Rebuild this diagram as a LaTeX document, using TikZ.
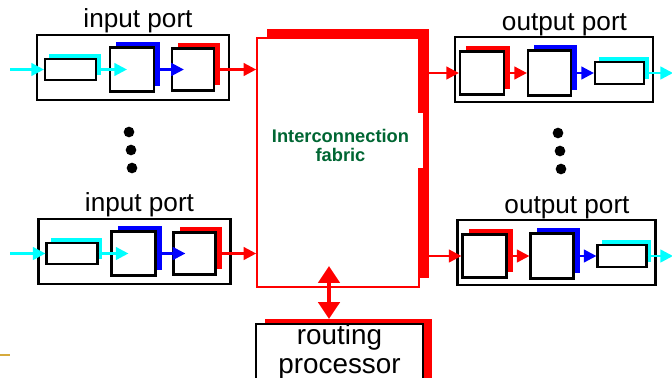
\documentclass[tikz,border=0pt]{standalone}
\usepackage{fontspec}
\setmainfont{Liberation Sans}
\usepackage{xcolor}
\usepackage{tikz}
\usetikzlibrary{arrows.meta,positioning,shadows}
\definecolor{fabred}{RGB}{255,0,0}
\definecolor{linkblue}{RGB}{0,0,255}
\definecolor{termcyan}{RGB}{0,255,255}
\definecolor{fabgreen}{RGB}{0,102,51}
\definecolor{slidegold}{RGB}{214,170,60}

\tikzset{
  portbox/.style={draw,line width=1.5pt,inner sep=0pt},
  unitbox/.style={draw,fill=white,line width=1.5pt,inner sep=0pt},
  redshadow/.style={general shadow={fill=fabred,shadow xshift=4.3pt,shadow yshift=4pt}},
  blueshadow/.style={general shadow={fill=linkblue,shadow xshift=4.3pt,shadow yshift=3.6pt}},
  cyanshadow/.style={general shadow={fill=termcyan,shadow xshift=3.2pt,shadow yshift=3.6pt}},
  portlabel/.style={anchor=base,inner sep=0pt,font=\fontsize{18.6}{22}\selectfont},
  flow/.style={->,line width=1.8pt},
}

\begin{document}
\begin{tikzpicture}[x=0.025cm,y=-0.025cm,>={Triangle[length=9pt,width=9pt]}]
  \useasboundingbox (0,0) rectangle (672,377);
  \clip (0,0) rectangle (672,377);
  % ---- CENTRE: interconnection fabric ----
  \node[unitbox,draw=fabred,line width=1.1pt,minimum width=4.05cm,minimum height=6.225cm,
        general shadow={fill=fabred,shadow xshift=7.1pt,shadow yshift=6.4pt}] (fabric) at (338,162.5) {};
  \node[fill=white,inner sep=0pt,minimum width=4.075cm,minimum height=1.375cm] (fabcover) at (341.5,140.5) {};
  \node[text=fabgreen,align=center,font=\fontsize{13}{13.5}\selectfont\bfseries] (fabtext) at (340.5,145)
        {Interconnection\\fabric};
  % ---- BELOW: routing processor ----
  \node[unitbox,minimum width=4.175cm,anchor=north,align=center,inner ysep=0pt,text depth=40pt,
        font=\fontsize{19.8}{20.6}\selectfont,
        general shadow={fill=fabred,shadow xshift=6.4pt,shadow yshift=3.5pt}] (router) at (339.5,323)
        {routing\\processor};
  \coordinate (ftip) at (329,266);
  \coordinate (rtip) at (329,319);
  \draw[{Triangle[length=12pt,width=15pt]}-{Triangle[length=12pt,width=15pt]},line width=3.5pt,fabred]
        (rtip) -- (ftip);
  % ---- LEFT: input ports ----
  \foreach \n/\dx/\dy in {a/0/0,b/1.5/184}{
    \node[portbox,minimum width=4.8cm,minimum height=1.625cm] (inport\n) at (133+\dx,67.5+\dy) {};
    \node[portlabel] (inlabel\n) at (138+\dx,27+\dy) {input port};
    \node[unitbox,cyanshadow,minimum width=1.275cm,minimum height=0.525cm] (interm\n) at (70.5+\dx,69.5+\dy) {};
    \node[unitbox,blueshadow,minimum size=1.1cm] (inlink\n) at (132+\dx,69.5+\dy) {};
    \node[unitbox,redshadow,minimum size=1.05cm] (inlook\n) at (193+\dx,69.5+\dy) {};
    \coordinate (insrc\n) at (10,69.5+\dy);
    \draw[flow,termcyan] (insrc\n) -- (interm\n);
    \draw[flow,termcyan] (interm\n.east) -- ([xshift=12.8pt]inlink\n.west);
    \draw[flow,linkblue] (inlink\n.east) -- ([xshift=9.2pt]inlook\n.west);
    \draw[flow,fabred] (inlook\n.east) -- (inlook\n.east -| fabric.west);
  }
  % ---- RIGHT: output ports ----
  \foreach \n/\dx/\dy in {a/0/0,b/2.5/183}{
    \node[portbox,minimum width=4.95cm,minimum height=1.625cm] (outport\n) at (554+\dx,69.5+\dy) {};
    \node[portlabel] (outlabel\n) at (564.5+\dx,30+\dy) {output port};
    \node[unitbox,redshadow,minimum width=1.1cm,minimum height=1.075cm] (outqueue\n) at (482+\dx,73+\dy) {};
    \node[unitbox,blueshadow,minimum width=1.075cm,minimum height=1.125cm] (outlink\n) at (549.5+\dx,73+\dy) {};
    \node[unitbox,cyanshadow,minimum width=1.225cm,minimum height=0.55cm] (outterm\n) at (619.5+\dx,73+\dy) {};
    \coordinate (outdst\n) at (673,73+\dy);
    \draw[flow,fabred] (outqueue\n.west -| fabric.east) -- (outqueue\n);
    \draw[flow,fabred] (outqueue\n) -- (outlink\n);
    \draw[flow,linkblue] (outlink\n) -- (outterm\n);
    \draw[flow,termcyan] (outterm\n) -- (outdst\n);
  }
  % ---- dots between the ports ----
  \foreach \p in {(129,132),(131,150),(132,168),(558,133),(560,151),(561,169)}{
    \fill \p circle (3.8pt);}
  \draw[slidegold,line width=1.5pt] (0,355) -- (10,355);
\end{tikzpicture}
\end{document}
